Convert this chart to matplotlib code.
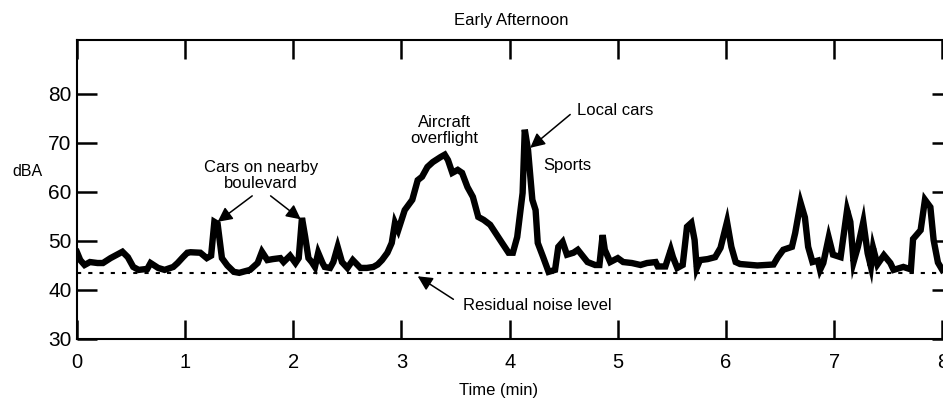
"""Early afternoon noise record, dBA over eight minutes."""
import matplotlib

matplotlib.use("Agg")
import matplotlib.pyplot as plt

plt.rcParams["font.family"] = ["Liberation Sans", "DejaVu Sans"]

# sound level trace (minutes, dBA)
times = [
    0.00, 0.03, 0.07, 0.12, 0.19, 0.24, 0.31, 0.37, 0.42, 0.47,
    0.52, 0.57, 0.65, 0.68, 0.75, 0.81, 0.89, 0.93, 0.98, 1.02,
    1.05, 1.14, 1.20, 1.24, 1.27, 1.30, 1.34, 1.39, 1.45, 1.50,
    1.60, 1.67, 1.71, 1.76, 1.81, 1.88, 1.91, 1.97, 2.02, 2.05,
    2.08, 2.11, 2.14, 2.17, 2.20, 2.23, 2.27, 2.29, 2.34, 2.37,
    2.41, 2.45, 2.50, 2.55, 2.62, 2.68, 2.74, 2.78, 2.82, 2.87,
    2.91, 2.94, 2.97, 3.03, 3.10, 3.15, 3.19, 3.24, 3.29, 3.36,
    3.40, 3.43, 3.47, 3.52, 3.56, 3.61, 3.66, 3.71, 3.76, 3.82,
    3.87, 3.93, 3.99, 4.03, 4.07, 4.12, 4.14, 4.17, 4.21, 4.24,
    4.26, 4.31, 4.36, 4.42, 4.45, 4.49, 4.53, 4.59, 4.63, 4.67,
    4.72, 4.79, 4.83, 4.86, 4.88, 4.93, 5.00, 5.05, 5.13, 5.21,
    5.27, 5.35, 5.37, 5.44, 5.49, 5.51, 5.55, 5.60, 5.64, 5.68,
    5.71, 5.73, 5.76, 5.83, 5.90, 5.95, 6.01, 6.05, 6.09, 6.13,
    6.29, 6.44, 6.48, 6.53, 6.61, 6.64, 6.69, 6.73, 6.76, 6.80,
    6.85, 6.87, 6.90, 6.95, 6.99, 7.06, 7.12, 7.15, 7.18, 7.22,
    7.27, 7.31, 7.34, 7.36, 7.40, 7.46, 7.52, 7.55, 7.64, 7.71,
    7.73, 7.80, 7.84, 7.89, 7.92, 7.96, 8.00,
]
levels = [
    47.7, 46.1, 45.1, 45.7, 45.5, 45.5, 46.5, 47.2, 47.8, 46.7,
    44.7, 44.1, 44.3, 45.5, 44.5, 44.1, 44.7, 45.5, 46.7, 47.6,
    47.7, 47.6, 46.5, 47.0, 53.9, 53.5, 46.5, 45.0, 43.7, 43.5,
    44.1, 45.5, 47.8, 46.1, 46.3, 46.5, 45.7, 47.0, 45.5, 46.5,
    54.7, 50.8, 46.5, 45.7, 44.7, 47.6, 45.5, 44.7, 44.5, 45.7,
    48.8, 45.7, 44.5, 46.1, 44.5, 44.5, 44.7, 45.2, 46.1, 47.6,
    49.6, 53.7, 52.2, 56.3, 58.4, 62.4, 63.1, 65.1, 66.1, 67.1,
    67.6, 66.5, 63.9, 64.5, 63.9, 61.0, 59.0, 54.9, 54.3, 53.3,
    51.6, 49.6, 47.6, 47.6, 50.8, 59.8, 72.7, 68.6, 58.4, 56.3,
    49.6, 46.7, 43.7, 44.1, 48.8, 49.8, 47.2, 47.6, 48.2, 47.1,
    45.7, 45.1, 45.1, 51.2, 48.2, 45.7, 46.5, 45.7, 45.5, 45.1,
    45.5, 45.7, 44.8, 44.8, 48.2, 46.7, 44.5, 45.1, 52.9, 53.7,
    50.2, 44.5, 46.1, 46.3, 46.7, 48.6, 53.9, 48.8, 45.7, 45.3,
    45.0, 45.2, 46.7, 48.2, 48.8, 51.6, 57.8, 54.8, 48.8, 45.7,
    46.0, 44.1, 45.5, 50.7, 47.2, 46.7, 56.3, 53.9, 45.7, 48.8,
    53.9, 47.5, 44.8, 48.6, 45.2, 47.1, 45.5, 44.1, 44.7, 44.2,
    50.4, 52.2, 58.4, 56.9, 50.2, 45.6, 44.1,
]

residual_level = 43.5
x_ticks = [0, 1, 2, 3, 4, 5, 6, 7, 8]
y_ticks = [30, 40, 50, 60, 70, 80]

ARROW = dict(arrowstyle="-|>", color="black", lw=1.1,
             mutation_scale=22, shrinkA=0, shrinkB=0)

fig = plt.figure(figsize=(9.43, 4.0), dpi=100)
# axes runs a little past the right edge, as in the cropped original
ax = fig.add_axes([77 / 943, 61 / 400, 875 / 943, 299 / 400])

ax.plot(times, levels, color="black", lw=4.6, solid_joinstyle="miter")
ax.axhline(residual_level, color="black", lw=1.5, ls=(0, (2, 3.4)))

ax.set_xlim(0, 8.09)
ax.set_ylim(30, 91)
ax.set_xticks(x_ticks)
ax.set_yticks(y_ticks)
ax.tick_params(axis="x", direction="in", length=14, width=1.8,
               top=True, labelsize=14.5, pad=10)
ax.tick_params(axis="y", direction="in", length=14.5, width=1.8,
               right=True, labelsize=15, pad=4)
for spine in ax.spines.values():
    spine.set_linewidth(1.5)

# annotations
ax.text(1.70, 63.4, "Cars on nearby\nboulevard", fontsize=12,
        ha="center", va="center", linespacing=1.05)
ax.annotate("", xy=(1.30, 53.9), xytext=(1.62, 59.2), arrowprops=ARROW)
ax.annotate("", xy=(2.07, 54.4), xytext=(1.79, 59.2), arrowprops=ARROW)
ax.text(3.40, 72.5, "Aircraft\noverflight", fontsize=12,
        ha="center", va="center", linespacing=1.05)
ax.annotate("", xy=(4.19, 69.0), xytext=(4.56, 75.8), arrowprops=ARROW)
ax.text(4.62, 76.7, "Local cars", fontsize=12, ha="left", va="center")
ax.text(4.53, 65.3, "Sports", fontsize=12, ha="center", va="center")
ax.annotate("", xy=(3.15, 42.8), xytext=(3.48, 38.1), arrowprops=ARROW)
ax.text(3.57, 36.9, "Residual noise level", fontsize=12,
        ha="left", va="center")

fig.text(511 / 943, 1 - 20 / 400, "Early Afternoon", fontsize=12,
         ha="center", va="center")
fig.text(499 / 943, 1 - 390 / 400, "Time (min)", fontsize=12,
         ha="center", va="center")
fig.text(27 / 943, 1 - 172 / 400, "dBA", fontsize=11.5,
         ha="center", va="center")

fig.savefig("out.png", dpi=100)
